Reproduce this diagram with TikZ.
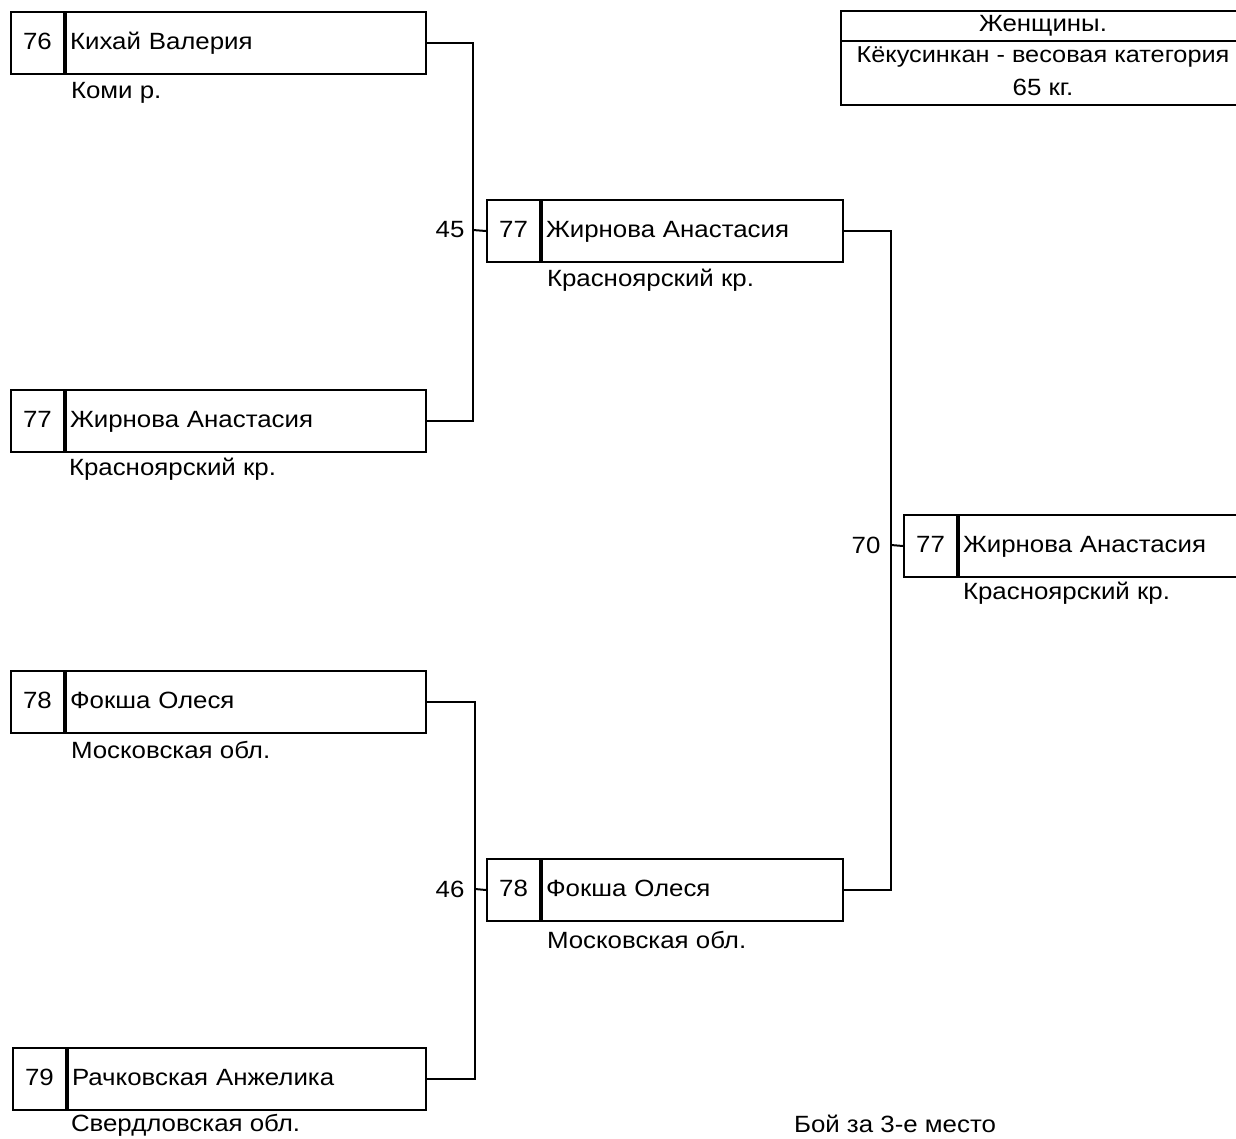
\documentclass[tikz,border=0pt]{standalone}
\usepackage{fontspec}
\setmainfont{Liberation Sans}[FakeStretch=1.1]
\begin{document}
\begin{tikzpicture}[x=1pt,y=-1pt,
  line width=2pt,
  every node/.style={font=\fontsize{23.5}{26}\selectfont, inner sep=0pt},
  numcell/.style={draw, line width=2pt, minimum width=53pt, minimum height=62pt, anchor=north west, text height=16pt, text depth=4pt},
  namecell/.style={draw, line width=2pt, minimum height=62pt, anchor=west, text width=#1, align=left, inner xsep=4pt, text height=16pt, text depth=4pt},
  region/.style={anchor=west},
  lbl/.style={anchor=center}]
\clip (0,0) rectangle (1236,1138);
\fill[white] (0,0) rectangle (1236,1138);

% Round 1
\node[numcell] (an) at (10,11) {76};
\node[namecell=352pt] (a) at (an.east) {Кихай Валерия};
\node[region] (ar) at (70,93) {Коми р.};

\node[numcell] (bn) at (10,389) {77};
\node[namecell=352pt] (b) at (bn.east) {Жирнова Анастасия};
\node[region] (br) at (68,469) {Красноярский кр.};

\node[numcell] (cn) at (10,670) {78};
\node[namecell=352pt] (c) at (cn.east) {Фокша Олеся};
\node[region] (cr) at (70,750) {Московская обл.};

\node[numcell] (dn) at (12,1047) {79};
\node[namecell=350pt] (d) at (dn.east) {Рачковская Анжелика};
\node[region] (dr) at (70,1125) {Свердловская обл.};

% Round 2
\node[numcell] (en) at (486,199) {77};
\node[namecell=293pt] (e) at (en.east) {Жирнова Анастасия};
\node[region] (er) at (546,280) {Красноярский кр.};

\node[numcell] (fn) at (486,858) {78};
\node[namecell=293pt] (f) at (fn.east) {Фокша Олеся};
\node[region] (fr) at (546,940) {Московская обл.};

% Final
\node[numcell] (gn) at (903,514) {77};
\node[namecell=340pt] (g) at (gn.east) {Жирнова Анастасия};
\node[region] (gr) at (962,593) {Красноярский кр.};

% connectors
\coordinate (j1) at (473,230);
\draw (a.east) -| (j1) |- (b.east);
\draw (j1) -- (en.west);
\node[lbl] (l45) at (450,230) {45};

\coordinate (j2) at (475,889);
\draw (c.east) -| (j2) |- (d.east);
\draw (j2) -- (fn.west);
\node[lbl] (l46) at (450,889) {46};

\coordinate (j3) at (891,545);
\draw (e.east) -| (j3) |- (f.east);
\draw (j3) -- (gn.west);
\node[lbl] (l70) at (866,545) {70};

% title box
\node[draw, line width=2pt, minimum width=410pt, minimum height=94pt, anchor=north west] (title) at (840,10) {};
\draw (840,41) -- (1250,41);
\node (t1) at (1043,26) {Женщины.};
\node[font=\fontsize{23}{26}\selectfont] (t2) at (1043,57) {Кёкусинкан - весовая категория};
\node (t3) at (1043,87) {65 кг.};

\node (third) at (895,1124) {Бой за 3-е место};
\end{tikzpicture}
\end{document}
